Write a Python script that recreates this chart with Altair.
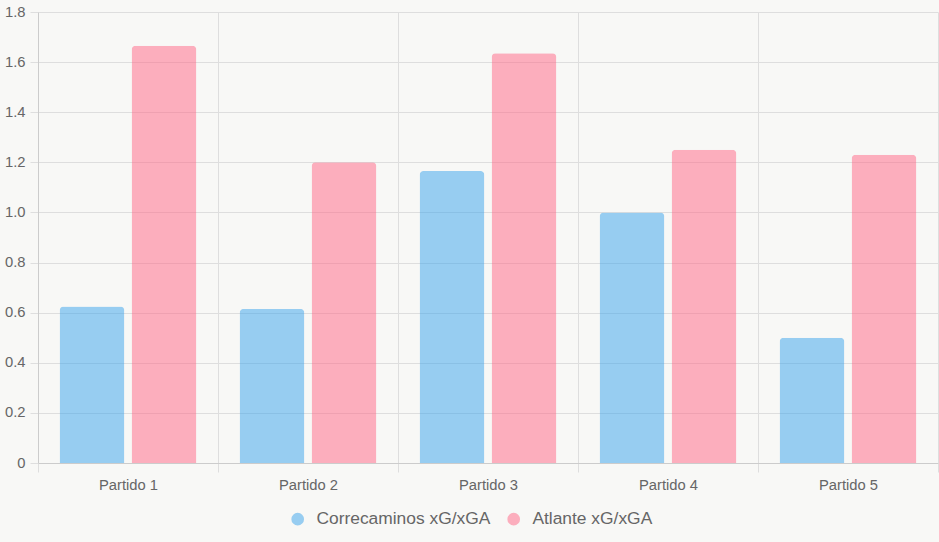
import altair as alt
import pandas as pd

partidos = ["Partido 1", "Partido 2", "Partido 3", "Partido 4", "Partido 5"]
series = ["Correcaminos xG/xGA", "Atlante xG/xGA"]
correcaminos = [0.625, 0.615, 1.165, 1.00, 0.50]
atlante = [1.665, 1.20, 1.635, 1.25, 1.23]
y_ticks = [0, 0.2, 0.4, 0.6, 0.8, 1.0, 1.2, 1.4, 1.6, 1.8]
colors = ["#36A2EB", "#FF6384"]

rows = []
for i, p in enumerate(partidos):
    rows.append({"partido": p, "serie": series[0], "valor": correcaminos[i]})
    rows.append({"partido": p, "serie": series[1], "valor": atlante[i]})
df = pd.DataFrame(rows)

FONT = "Liberation Sans"
GRID = "#dedede"
TXT = "#666666"

chart = alt.Chart(df).mark_bar(
    opacity=0.5, cornerRadiusTopLeft=4, cornerRadiusTopRight=4
).encode(
    x=alt.X(
        "partido:N", sort=partidos,
        scale=alt.Scale(paddingInner=0, paddingOuter=0),
        axis=alt.Axis(
            title=None, labelAngle=0, tickBand="extent", grid=True,
            gridColor=GRID, tickColor=GRID, tickSize=9, domainColor="#cccccc",
            labelFont=FONT, labelFontSize=14.75, labelColor=TXT, labelPadding=5,
        ),
    ),
    xOffset=alt.XOffset(
        "serie:N", sort=series,
        scale=alt.Scale(paddingInner=0.1, paddingOuter=0.3),
    ),
    y=alt.Y(
        "valor:Q",
        scale=alt.Scale(domain=[0, 1.8], nice=False),
        axis=alt.Axis(
            title=None, values=y_ticks, grid=True, gridColor=GRID,
            tickColor=GRID, tickSize=8, domainColor="#cccccc",
            labelExpr="datum.value == 0 ? '0' : format(datum.value, '.1f')",
            labelFont=FONT, labelFontSize=14.75, labelColor=TXT, labelPadding=5,
        ),
    ),
    color=alt.Color(
        "serie:N", sort=series,
        scale=alt.Scale(domain=series, range=colors),
        legend=alt.Legend(
            title=None, orient="none", direction="horizontal",
            legendX=251, legendY=498, symbolType="circle", symbolSize=160,
            symbolOpacity=0.5, symbolStrokeWidth=0,
            labelFont=FONT, labelFontSize=17.4, labelColor=TXT, labelLimit=0,
            labelOffset=10, columnPadding=14, padding=0,
        ),
    ),
).properties(
    width=900, height=451,
    padding={"left": 38, "top": 12, "right": 1, "bottom": 79},
    autosize="none", background="#f8f8f6",
).configure_view(stroke=None)

chart.save("out.html", embed_options={"renderer": "svg", "actions": False})
